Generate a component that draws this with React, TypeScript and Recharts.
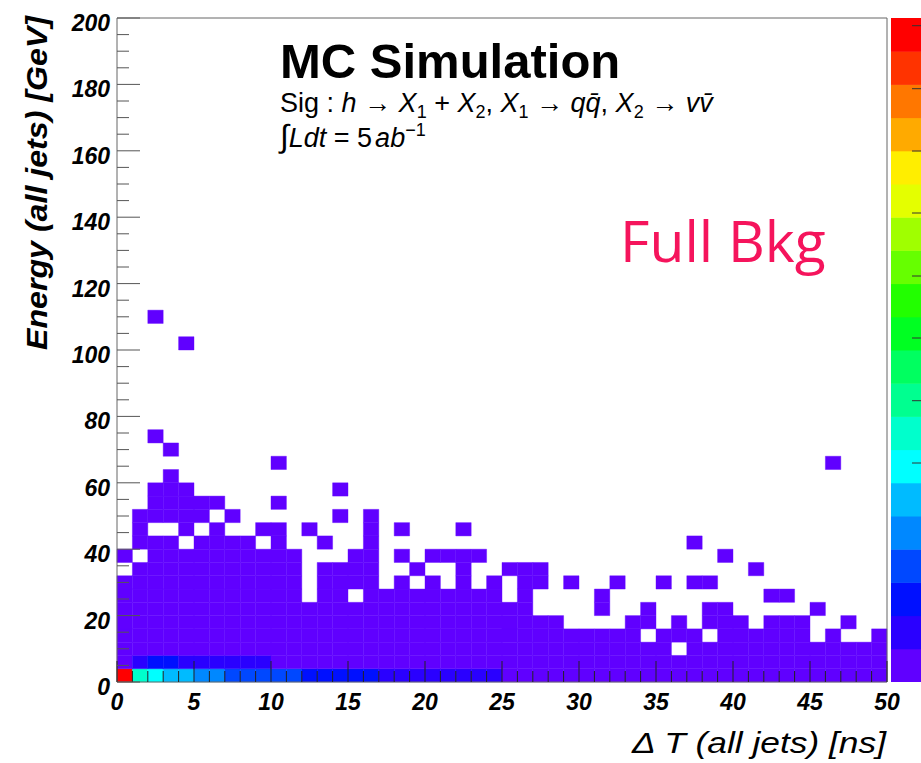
import React from "react";
import { ComposedChart, XAxis, YAxis, ReferenceArea } from "recharts";

// bin sizes of the 2D histogram
const dtBin = 1; // ns
const eBin = 4; // GeV

// z palette, lowest level first (as on the colour bar, bottom -> top)
const palette = [
  "#6000ff", "#2a00ff", "#0010ff", "#0048ff", "#0088ff",
  "#00bbff", "#00ffff", "#00ffcc", "#00ff90", "#00ff60",
  "#00ff22", "#22ff00", "#66ff00", "#a0ff00", "#e4ff00",
  "#ffee00", "#ffaa00", "#ff7700", "#ff3300", "#ff0000",
];
const levelChars = "123456789abcdefghijk";

// one string per 4 GeV row (row00 = 0-4 GeV), one char per 1 ns bin
// '.' = empty, otherwise palette level
const row00 = "k876655444" + "4433333222" + "2222211111" + "1111111111" + "1111111111";
const row01 = "1233222222" + "1111111111" + "1111111111" + "1111111111" + "1111111111";
const row02 = "1111111111" + "1111111111" + "1111111111" + "111111.111" + "1111111111";
const row03 = "1111111111" + "1111111111" + "1111111111" + "1111.111.1" + "11111.1..1";
const row04 = "1111111111" + "1111111111" + "111111111." + "...11.1.11" + "1.111..1..";
const row05 = "1111111111" + "1111111111" + "1111111..." + ".1..1...11" + ".....1....";
const row06 = "1111111111" + "11.11.1111" + "11111.1..." + ".1........" + "..11......";
const row07 = "1111111111" + "11.1111.1." + "1.1.1.11.1" + "..1..1.11." + "..........";
const row08 = ".111111111" + "11.1111..1" + "..1..111.." + ".........." + ".1........";
const row09 = "1.11111111" + "11...11.1." + "1111......" + ".........1" + "..........";
const row10 = ".111.1111." + "1..1..1..." + ".........." + ".......1.." + "..........";
const row11 = ".1..1.1..1" + "1.1...1.1." + "..1......." + ".........." + "..........";
const row12 = ".11111.1.." + "....1.1..." + ".........." + ".........." + "..........";
const row13 = "..11111..." + "1........." + ".........." + ".........." + "..........";
const row14 = "..111....." + "....1....." + ".........." + ".........." + "..........";
const row15 = "...1......" + ".........." + ".........." + ".........." + "..........";
const row16 = ".........." + "1........." + ".........." + ".........." + "......1...";
const row17 = "...1......" + ".........." + ".........." + ".........." + "..........";
const row18 = "..1......." + ".........." + ".........." + ".........." + "..........";
const emptyRow = "..................................................";
const row25 = "....1....." + ".........." + ".........." + ".........." + "..........";
const row27 = "..1......." + ".........." + ".........." + ".........." + "..........";

const energyRows = [
  row00, row01, row02, row03, row04, row05, row06, row07, row08, row09,
  row10, row11, row12, row13, row14, row15, row16, row17, row18,
  emptyRow, emptyRow, emptyRow, emptyRow, emptyRow, emptyRow,
  row25, emptyRow, row27,
];

const xMajorTicks = [0, 5, 10, 15, 20, 25, 30, 35, 40, 45, 50];
const yMajorTicks = [0, 20, 40, 60, 80, 100, 120, 140, 160, 180, 200];

const xAllTicks = Array.from({ length: 51 }, (_, i) => i);
const yAllTicks = Array.from({ length: 41 }, (_, i) => i * 5);

type Cell = { x0: number; x1: number; y0: number; y1: number; level: number };

const cells: Cell[] = [];
energyRows.forEach((row, k) => {
  row.split("").forEach((c, i) => {
    if (c === ".") return;
    cells.push({
      x0: i * dtBin,
      x1: (i + 1) * dtBin,
      y0: k * eBin,
      y1: (k + 1) * eBin,
      level: levelChars.indexOf(c) + 1,
    });
  });
});

const helv = "'Liberation Sans', Arial, sans-serif";

const tickFont = {
  fontFamily: helv,
  fontWeight: 700,
  fontStyle: "italic" as const,
  fontSize: 23,
  fill: "#000",
};

const XTick = (props: any) => {
  const { x, y, payload } = props;
  const major = xMajorTicks.includes(payload.value);
  return (
    <g>
      <line x1={x} x2={x} y1={y} y2={y - (major ? 21 : 11)} stroke="#222" strokeWidth={1} />
      {major && (
        <text x={x} y={y + 28} textAnchor="middle" {...tickFont}>
          {payload.value}
        </text>
      )}
    </g>
  );
};

const YTick = (props: any) => {
  const { x, y, payload } = props;
  const major = yMajorTicks.includes(payload.value);
  return (
    <g>
      <line x1={x} x2={x + (major ? 23 : 12)} y1={y} y2={y} stroke="#555" strokeWidth={1} />
      {major && (
        <text x={x - 7} y={y + 13} textAnchor="end" {...tickFont}>
          {payload.value}
        </text>
      )}
    </g>
  );
};

const ColorBar = () => {
  const top = 18;
  const h = 664;
  const band = h / palette.length;
  const tickYs = [25.7, 88.7, 151, 213, 276, 338, 400.7, 463];
  return (
    <svg width={30} height={h} style={{ position: "absolute", left: 891, top }}>
      {palette.map((c, i) => (
        <rect
          key={c}
          x={0}
          y={h - (i + 1) * band}
          width={30}
          height={band + 0.5}
          fill={c}
        />
      ))}
      {tickYs.map((ty) => (
        <line key={ty} x1={21} x2={30} y1={ty - top} y2={ty - top} stroke="#333" />
      ))}
    </svg>
  );
};

export default function App() {
  return (
    <div
      style={{
        position: "absolute",
        left: 0,
        top: 0,
        width: 921,
        height: 763,
        background: "#fff",
        overflow: "hidden",
      }}
    >
      <ComposedChart
        width={921}
        height={763}
        margin={{ top: 18, right: 34, left: 0, bottom: 0 }}
      >
        {cells.map((c) => (
          <ReferenceArea
            key={`${c.x0}-${c.y0}`}
            x1={c.x0}
            x2={c.x1}
            y1={c.y0}
            y2={c.y1}
            fill={palette[c.level - 1]}
            fillOpacity={1}
            stroke={palette[c.level - 1]}
            strokeWidth={0.4}
            ifOverflow="visible"
          />
        ))}
        <ReferenceArea
          x1={0}
          x2={50}
          y1={0}
          y2={200}
          fill="none"
          stroke="#666"
          strokeWidth={1}
          ifOverflow="visible"
        />
        <XAxis
          type="number"
          dataKey="x"
          domain={[0, 50]}
          ticks={xAllTicks}
          interval={0}
          height={81}
          tickSize={0}
          tickMargin={0}
          axisLine={false}
          tickLine={false}
          tick={<XTick />}
          allowDataOverflow
        />
        <YAxis
          type="number"
          dataKey="y"
          domain={[0, 200]}
          ticks={yAllTicks}
          interval={0}
          width={117}
          tickSize={0}
          tickMargin={0}
          axisLine={false}
          tickLine={false}
          tick={<YTick />}
          allowDataOverflow
        />
      </ComposedChart>

      <ColorBar />

      <svg
        width={921}
        height={763}
        style={{ position: "absolute", left: 0, top: 0, pointerEvents: "none" }}
      >
        <text x={280} y={78} fontFamily={helv} fontWeight={700} fontSize={49} fill="#000">
          MC Simulation
        </text>
        <text x={280} y={112} fontFamily={helv} fontSize={27} fill="#000">
          Sig :{" "}
          <tspan fontStyle="italic">h</tspan> {"\u2192"}{" "}
          <tspan fontStyle="italic">X</tspan>
          <tspan dy={6} fontSize={18}>1</tspan>
          <tspan dy={-6}> + </tspan>
          <tspan fontStyle="italic">X</tspan>
          <tspan dy={6} fontSize={18}>2</tspan>
          <tspan dy={-6}>, </tspan>
          <tspan fontStyle="italic">X</tspan>
          <tspan dy={6} fontSize={18}>1</tspan>
          <tspan dy={-6}> {"\u2192"}  </tspan>
          <tspan fontStyle="italic">q{"q\u0304"}</tspan>
          <tspan>, </tspan>
          <tspan fontStyle="italic">X</tspan>
          <tspan dy={6} fontSize={18}>2</tspan>
          <tspan dy={-6}> {"\u2192"}  </tspan>
          <tspan fontStyle="italic">{"v"}{"v\u0304"}</tspan>
        </text>
        <text x={280} y={147} fontFamily={helv} fontSize={27} fill="#000">
          <tspan fontSize={32}>{"\u222B"}</tspan>
          <tspan fontStyle="italic">Ldt</tspan>
          <tspan> = 5</tspan>
          <tspan fontStyle="italic" dx={3}>ab</tspan>
          <tspan dy={-11} fontSize={18}>{"\u22121"}</tspan>
        </text>
        <text
          x={620}
          y={262}
          fontFamily="'Open Sans', sans-serif"
          fontSize={57}
          fill="#f5145c"
        >
          Full Bkg
        </text>
        <text
          transform="rotate(-90, 47, 16)"
          x={47}
          y={16}
          textAnchor="end"
          fontFamily={helv}
          fontWeight={700}
          fontStyle="italic"
          fontSize={30}
          textLength={334}
          lengthAdjust="spacingAndGlyphs"
          fill="#000"
        >
          Energy (all jets) [GeV]
        </text>
        <text
          x={886}
          y={753}
          textAnchor="end"
          fontFamily={helv}
          fontStyle="italic"
          fontSize={30}
          textLength={254}
          lengthAdjust="spacingAndGlyphs"
          fill="#000"
        >
          {"\u0394"}  T (all jets) [ns]
        </text>
      </svg>
    </div>
  );
}
